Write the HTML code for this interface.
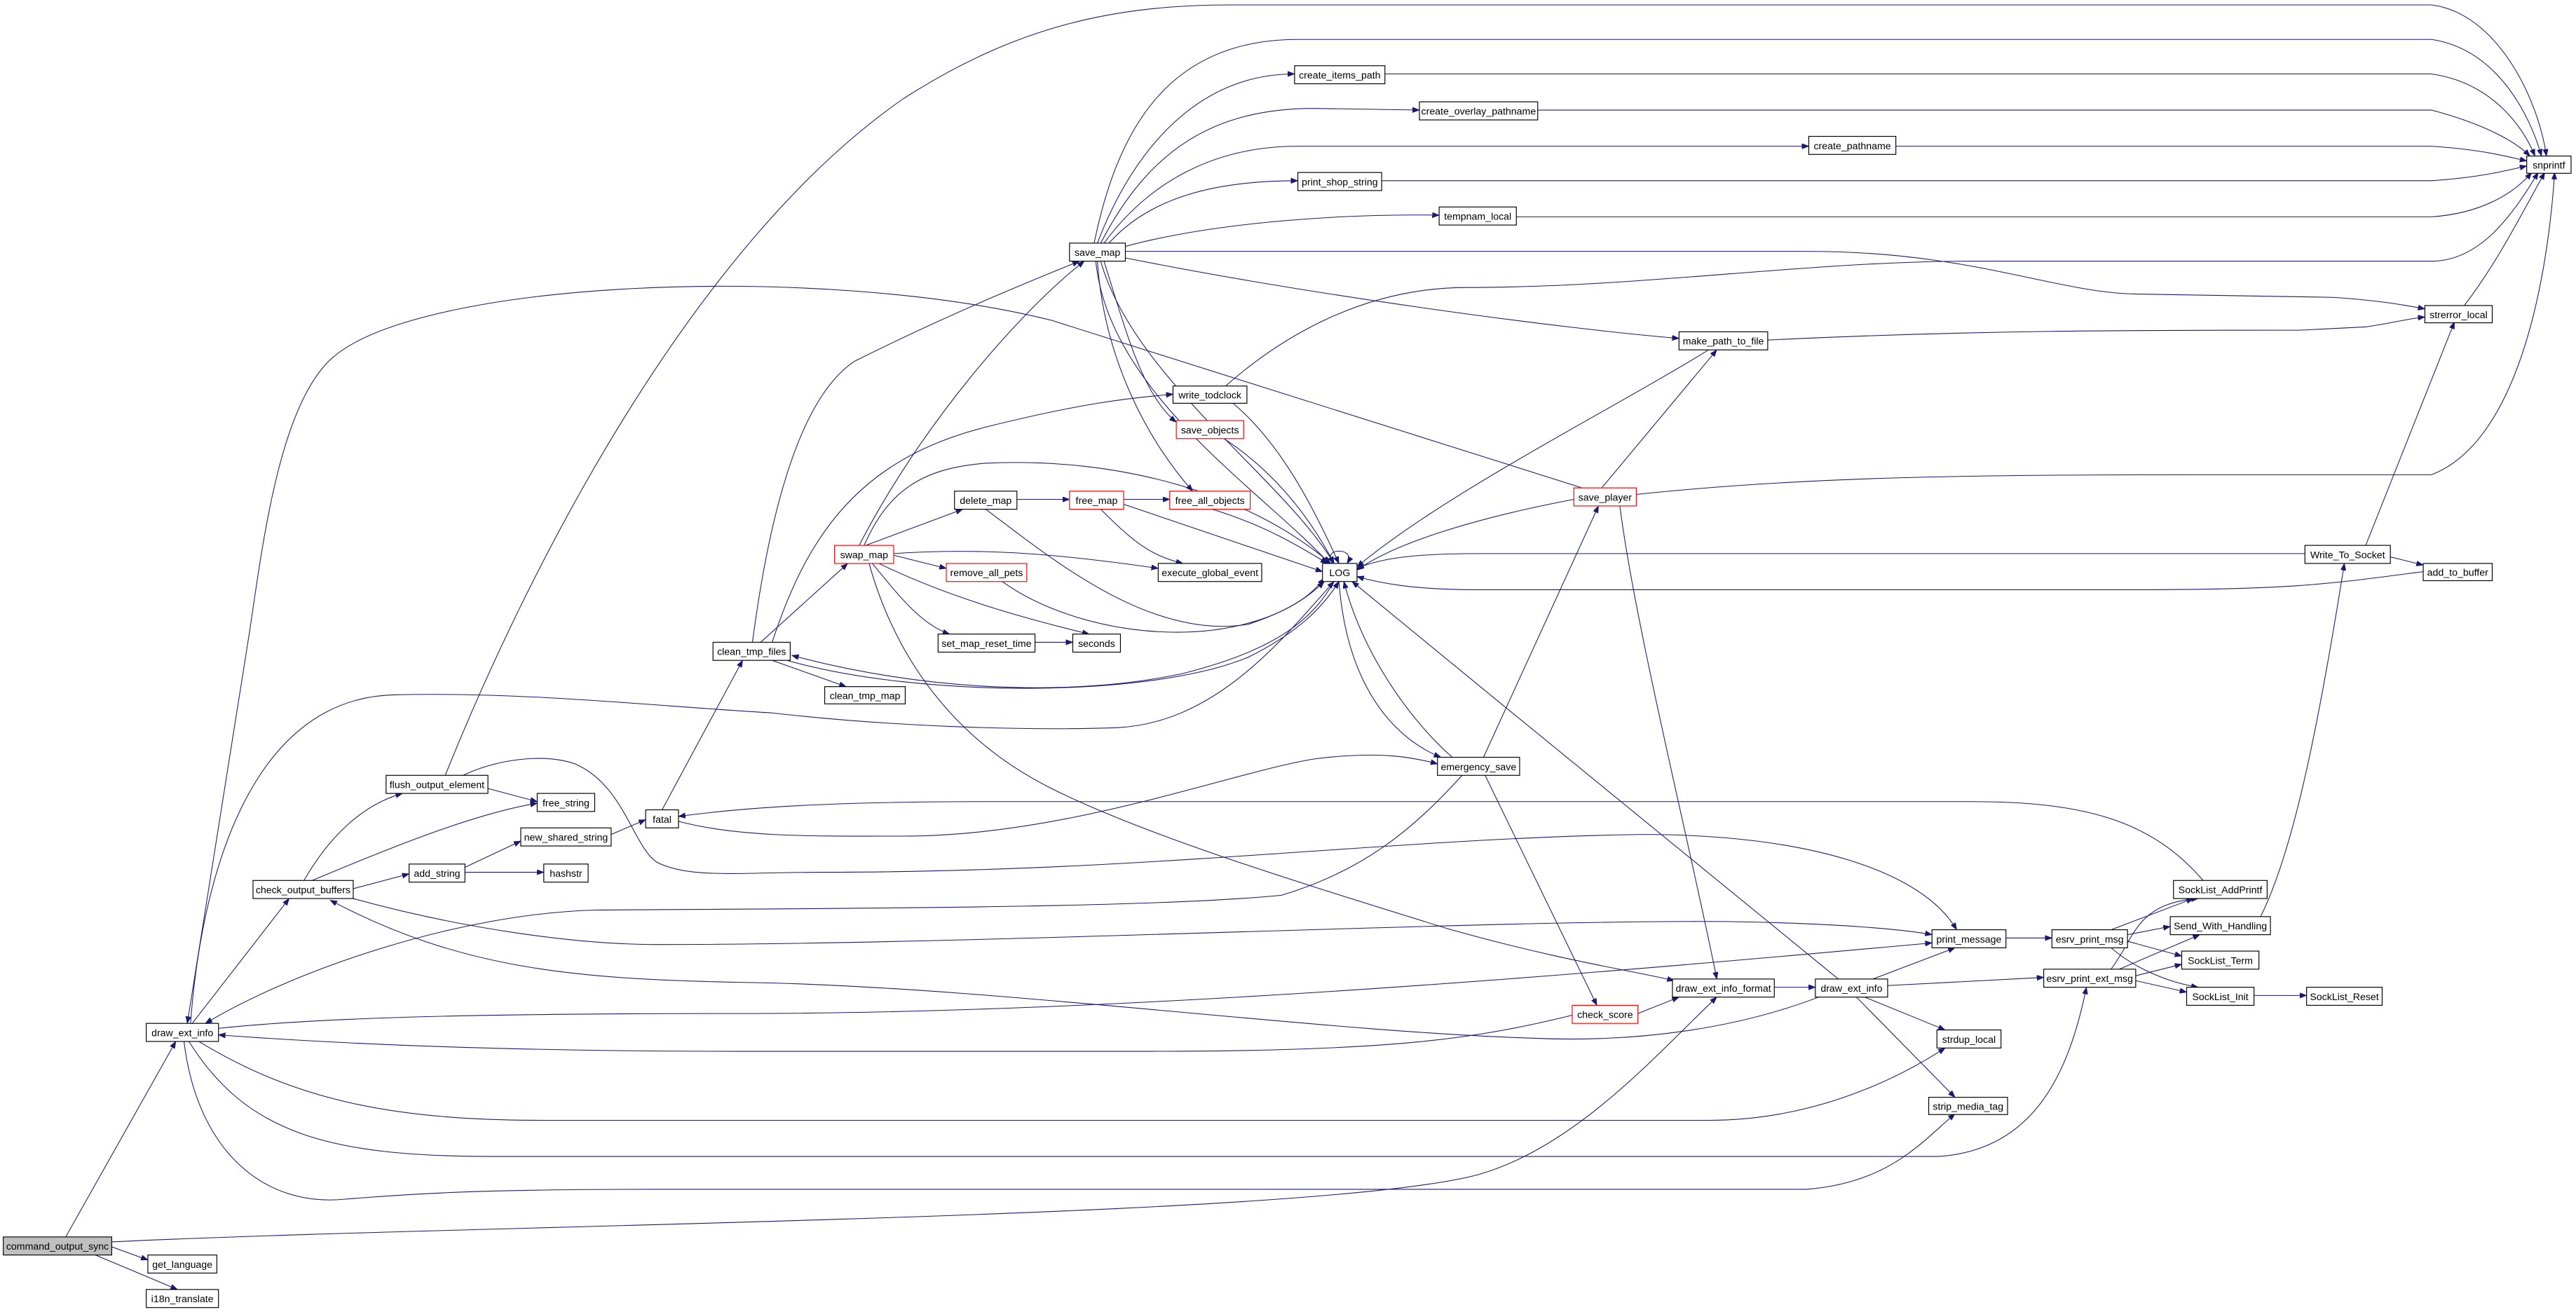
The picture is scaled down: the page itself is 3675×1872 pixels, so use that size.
<!DOCTYPE html>
<html><head><meta charset="utf-8"><style>
html,body{margin:0;padding:0;background:#fff;}
svg{display:block;}
text{font-family:"Liberation Sans",sans-serif;font-size:6.05px;text-anchor:middle;fill:#000;}
.e{fill:none;stroke:#191970;stroke-width:0.45;}
.n{fill:#fff;stroke:#000;stroke-width:0.5;}
.r{fill:#fff;stroke:#ff0000;stroke-width:0.5;}
</style></head><body>
<svg width="3675" height="1872" viewBox="0 0 1568 798.7" preserveAspectRatio="none" xmlns="http://www.w3.org/2000/svg">
<defs>
<marker id="a" markerUnits="userSpaceOnUse" markerWidth="5" markerHeight="4" refX="4.2" refY="1.6" orient="auto">
<path d="M0,0 L4.2,1.6 L0,3.2 Z" fill="#191970" stroke="#191970" stroke-width="0.3"/>
</marker>
</defs>
<g class="e" marker-end="url(#a)">
<!-- command_output_sync -->
<path d="M40,753 L107,634"/>
<path d="M68,756 C300,745 800,742 900,715 C960,698 1010,640 1045,607"/>
<path d="M68,759 L90,767"/>
<path d="M58,764 L108,785"/>
<!-- draw_ext_info L -->
<path d="M117,623 L176,547"/>
<path d="M116,623 C122,540 150,425 240,423 C320,421 400,430 470,434 C540,442 620,445 680,443 C740,440 780,390 812,354"/>
<path d="M133,626 C200,619 300,617 450,617 C700,617 1000,590 1176,574"/>
<path d="M121,634 C180,670 240,682 330,682 L1040,682 C1100,682 1150,660 1184,638"/>
<path d="M115,634 C150,690 200,704 300,704 L1180,704 C1240,700 1260,650 1270,601"/>
<path d="M112,634 C120,700 160,735 210,730 C260,726 300,724 400,724 L1100,724 C1150,720 1170,695 1190,678"/>
<!-- into draw_ext_info L -->
<path d="M963,297 L640,195 C500,160 250,170 200,220 C170,250 160,330 152,384 L114,623"/>
<path d="M957,618 C900,632 850,640 700,640 L450,640 C300,640 200,635 133,630"/>
<path d="M890,472 C860,505 830,530 780,545 C700,553 500,553 363,554 C280,556 180,590 125,623"/>
<!-- check_output_buffers -->
<path d="M185,536 C200,510 220,490 245,483"/>
<path d="M190,536 C240,515 290,495 327,489"/>
<path d="M215,541 L249,532"/>
<path d="M215,547 C280,565 350,575 400,575 C600,575 900,560 1050,561 C1120,562 1160,566 1176,569"/>
<path d="M1107,607 C1060,625 1000,635 933,632 C800,628 600,600 450,598 C350,596 280,590 201,548"/>
<!-- flush_output_element -->
<path d="M297,480 L327,488"/>
<path d="M271,472 C320,350 420,150 550,60 C620,15 680,3 750,3 L1480,3 C1520,8 1545,60 1550,95"/>
<path d="M282,472 C300,463 330,458 350,465 C380,478 385,515 400,525 C420,535 450,531 500,531 C700,531 850,510 1000,508 C1100,508 1170,530 1191,566"/>
<!-- add_string -->
<path d="M283,528 L317,512"/>
<path d="M283,531 L331,531"/>
<path d="M372,508 L393,499"/>
<!-- fatal -->
<path d="M403,493 L452,402"/>
<path d="M413,500 C450,510 500,509 550,509 C650,509 750,470 800,462 C840,457 860,461 875,465"/>
<path d="M1341,536 C1310,500 1270,488 1200,488 L600,488 C500,488 450,492 413,497"/>
<!-- clean_tmp_files -->
<path d="M458,391 C470,300 490,240 520,220 C580,190 630,170 657,159"/>
<path d="M463,391 L516,343"/>
<path d="M470,391 C490,330 520,280 600,260 C660,245 690,242 714,240"/>
<path d="M479,402 C560,425 700,425 760,400 C790,385 805,370 815,354"/>
<path d="M812,354 C800,375 780,395 720,410 C650,425 560,420 482,399"/>
<path d="M470,402 L515,418"/>
<!-- swap_map -->
<path d="M527,332 L586,310"/>
<path d="M544,338 L576,346"/>
<path d="M544,337 C600,333 650,338 705,346"/>
<path d="M531,343 C545,360 560,380 578,386"/>
<path d="M535,343 C580,365 630,378 663,386"/>
<path d="M523,332 C560,260 620,190 660,159"/>
<path d="M526,332 C540,300 560,285 600,282 C680,278 760,300 810,343"/>
<path d="M529,343 C545,400 580,450 640,480 C700,510 800,540 880,565 C950,585 1000,592 1019,597"/>
<path d="M619,304 L651,304"/>
<path d="M684,304 L712,304"/>
<path d="M600,310 C640,340 700,390 760,380 C790,370 800,360 806,352"/>
<path d="M684,307 L805,348"/>
<path d="M670,310 C690,330 700,338 720,343"/>
<path d="M738,310 C770,320 790,332 808,343"/>
<path d="M610,354 C660,390 760,400 806,354"/>
<path d="M630,391 L653,391"/>
<!-- save_map -->
<path d="M666,148 C680,80 710,24 790,24 L1480,24 C1520,30 1540,70 1547,95"/>
<path d="M668,148 C690,90 730,45 788,45"/>
<path d="M670,148 C700,90 740,66 800,66 L864,67"/>
<path d="M672,148 C700,110 740,89 790,89 L1101,89"/>
<path d="M675,148 C700,120 740,110 790,110"/>
<path d="M685,150 C740,135 820,130 876,131"/>
<path d="M685,153 L1100,153 C1200,153 1250,178 1300,179 L1420,181 C1450,183 1465,186 1476,188"/>
<path d="M685,157 C800,180 950,200 1022,206"/>
<path d="M672,159 C685,200 695,240 716,257"/>
<path d="M668,159 C672,220 700,270 726,299"/>
<path d="M670,159 C690,230 780,290 812,343"/>
<path d="M667,159 C675,240 770,300 809,343"/>
<!-- top row to snprintf -->
<path d="M843,45 L1480,45 C1515,50 1535,75 1543,95"/>
<path d="M936,67 L1480,67 C1510,75 1530,85 1540,95"/>
<path d="M1154,89 L1480,89 C1510,91 1525,95 1538,98"/>
<path d="M841,110 L1480,110 C1510,108 1525,104 1538,101"/>
<path d="M923,132 L1480,132 C1510,130 1530,118 1541,105"/>
<path d="M746,235 C780,205 830,175 893,175 C1000,175 1100,159 1200,159 L1480,159 C1510,159 1530,130 1545,105"/>
<path d="M996,301 C1100,290 1200,289 1350,289 L1480,289 C1530,270 1550,180 1555,105"/>
<path d="M1500,186 C1520,160 1535,130 1549,105"/>
<path d="M1076,207 C1200,201 1300,201 1400,201 L1440,199 C1455,197 1465,194 1476,193"/>
<path d="M1440,332 L1494,196"/>
<path d="M1455,339 L1475,344"/>
<path d="M1403,337 L900,337 C860,337 840,340 826,346"/>
<path d="M1475,348 C1420,355 1400,359 1300,359 L900,359 C860,359 840,355 826,351"/>
<path d="M1376,558 C1395,520 1410,450 1427,343"/>
<!-- LOG related -->
<path d="M750,245 C780,270 800,310 815,343"/>
<path d="M745,267 C780,290 800,320 812,343"/>
<path d="M958,304 C900,315 850,330 826,347"/>
<path d="M1040,213 C980,250 880,300 826,345"/>
<path d="M975,297 L1045,213"/>
<path d="M811,343 C804,333 826,333 820,343"/>
<path d="M815,354 C820,420 850,450 877,461"/>
<path d="M884,461 C860,440 830,400 818,354"/>
<path d="M1119,596 L912,427 L823,354"/>
<!-- emergency_save -->
<path d="M903,461 L973,308"/>
<path d="M904,472 L972,612"/>
<path d="M986,308 C995,380 1030,520 1045,596"/>
<path d="M997,617 L1022,607"/>
<!-- draw_ext_info R -->
<path d="M1080,601 L1105,601"/>
<path d="M1140,596 L1190,577"/>
<path d="M1149,600 L1244,595"/>
<path d="M1135,607 L1184,627"/>
<path d="M1130,607 L1190,668"/>
<path d="M1221,571 L1249,571"/>
<path d="M1285,566 L1335,547"/>
<path d="M1295,569 L1321,564"/>
<path d="M1295,573 L1328,582"/>
<path d="M1285,577 C1300,590 1320,598 1338,601"/>
<path d="M1285,590 C1300,570 1300,550 1338,547"/>
<path d="M1290,590 L1339,569"/>
<path d="M1300,594 L1328,587"/>
<path d="M1300,597 L1331,604"/>
<path d="M1372,606 L1404,606"/>
</g>
<!-- nodes -->
<g>
<rect x="2" y="753" width="66" height="11" fill="#bfbfbf" stroke="#000" stroke-width="0.5"/><text x="35" y="760.8">command_output_sync</text>
<rect class="n" x="90" y="764" width="42" height="11"/><text x="111" y="771.8">get_language</text>
<rect class="n" x="89" y="785" width="44" height="11"/><text x="111" y="792.8">i18n_translate</text>
<rect class="n" x="89" y="623" width="44" height="11"/><text x="111" y="630.8">draw_ext_info</text>
<rect class="n" x="154" y="536" width="61" height="11"/><text x="184.5" y="543.8">check_output_buffers</text>
<rect class="n" x="235" y="472" width="62" height="11"/><text x="266" y="479.8">flush_output_element</text>
<rect class="n" x="327" y="483" width="35" height="11"/><text x="344.5" y="490.8">free_string</text>
<rect class="n" x="249" y="526" width="34" height="11"/><text x="266" y="533.8">add_string</text>
<rect class="n" x="317" y="504" width="55" height="11"/><text x="344.5" y="511.8">new_shared_string</text>
<rect class="n" x="331" y="526" width="27" height="11"/><text x="344.5" y="533.8">hashstr</text>
<rect class="n" x="393" y="493" width="20" height="11"/><text x="403" y="500.8">fatal</text>
<rect class="n" x="434" y="391" width="47" height="11"/><text x="457.5" y="398.8">clean_tmp_files</text>
<rect class="n" x="502" y="418" width="49" height="10.5"/><text x="526.5" y="425.6">clean_tmp_map</text>
<rect class="r" x="508" y="332" width="36" height="11"/><text x="526" y="339.8">swap_map</text>
<rect class="n" x="581" y="299" width="38" height="11"/><text x="600" y="306.8">delete_map</text>
<rect class="r" x="651" y="299" width="33" height="11"/><text x="667.5" y="306.8">free_map</text>
<rect class="r" x="712" y="299" width="49" height="11"/><text x="736.5" y="306.8">free_all_objects</text>
<rect class="r" x="576" y="343" width="49" height="11"/><text x="600.5" y="350.8">remove_all_pets</text>
<rect class="n" x="705" y="343" width="63" height="11"/><text x="736.5" y="350.8">execute_global_event</text>
<rect class="n" x="571" y="386" width="59" height="11"/><text x="600.5" y="393.8">set_map_reset_time</text>
<rect class="n" x="653" y="386" width="29" height="11"/><text x="667.5" y="393.8">seconds</text>
<rect class="n" x="805" y="343" width="21" height="11"/><text x="815.5" y="350.8">LOG</text>
<rect class="n" x="651" y="148" width="34" height="11"/><text x="668" y="155.8">save_map</text>
<rect class="n" x="714" y="235" width="45" height="10.5"/><text x="736.5" y="242.6">write_todclock</text>
<rect class="r" x="716" y="256" width="41" height="11"/><text x="736.5" y="263.8">save_objects</text>
<rect class="n" x="788" y="40" width="55" height="11"/><text x="815.5" y="47.8">create_items_path</text>
<rect class="n" x="864" y="62" width="72" height="11"/><text x="900" y="69.8">create_overlay_pathname</text>
<rect class="n" x="1101" y="83" width="53" height="11"/><text x="1127.5" y="90.8">create_pathname</text>
<rect class="n" x="790" y="105" width="51" height="11"/><text x="815.5" y="112.8">print_shop_string</text>
<rect class="n" x="876" y="126" width="47" height="11"/><text x="899.5" y="133.8">tempnam_local</text>
<rect class="n" x="1538" y="95" width="27" height="10.5"/><text x="1551.5" y="102.6">snprintf</text>
<rect class="n" x="1476" y="186" width="41" height="10.5"/><text x="1496.5" y="193.6">strerror_local</text>
<rect class="n" x="1022" y="202" width="54" height="11"/><text x="1049" y="209.8">make_path_to_file</text>
<rect class="r" x="958" y="297" width="38" height="11"/><text x="977" y="304.8">save_player</text>
<rect class="n" x="1403" y="332" width="52" height="11"/><text x="1429" y="339.8">Write_To_Socket</text>
<rect class="n" x="1475" y="343" width="42" height="10.5"/><text x="1496" y="350.6">add_to_buffer</text>
<rect class="n" x="875" y="461" width="50" height="11"/><text x="900" y="468.8">emergency_save</text>
<rect class="n" x="1176" y="566" width="45" height="11"/><text x="1198.5" y="573.8">print_message</text>
<rect class="n" x="1249" y="566" width="46" height="11"/><text x="1272" y="573.8">esrv_print_msg</text>
<rect class="n" x="1323" y="536" width="57" height="11"/><text x="1351.5" y="543.8">SockList_AddPrintf</text>
<rect class="n" x="1321" y="558" width="61" height="11"/><text x="1351.5" y="565.8">Send_With_Handling</text>
<rect class="n" x="1328" y="579" width="47" height="11"/><text x="1351.5" y="586.8">SockList_Term</text>
<rect class="n" x="1331" y="601" width="41" height="11"/><text x="1351.5" y="608.8">SockList_Init</text>
<rect class="n" x="1404" y="601" width="46" height="11"/><text x="1427" y="608.8">SockList_Reset</text>
<rect class="n" x="1244" y="590" width="56" height="11"/><text x="1272" y="597.8">esrv_print_ext_msg</text>
<rect class="n" x="1018" y="596" width="62" height="11"/><text x="1049" y="603.8">draw_ext_info_format</text>
<rect class="n" x="1105" y="596" width="44" height="11"/><text x="1127" y="603.8">draw_ext_info</text>
<rect class="r" x="957" y="612" width="40" height="11"/><text x="977" y="619.8">check_score</text>
<rect class="n" x="1179" y="627" width="39" height="11"/><text x="1198.5" y="634.8">strdup_local</text>
<rect class="n" x="1174" y="668" width="48" height="10.5"/><text x="1198" y="675.6">strip_media_tag</text>
</g>
</svg>
</body></html>
